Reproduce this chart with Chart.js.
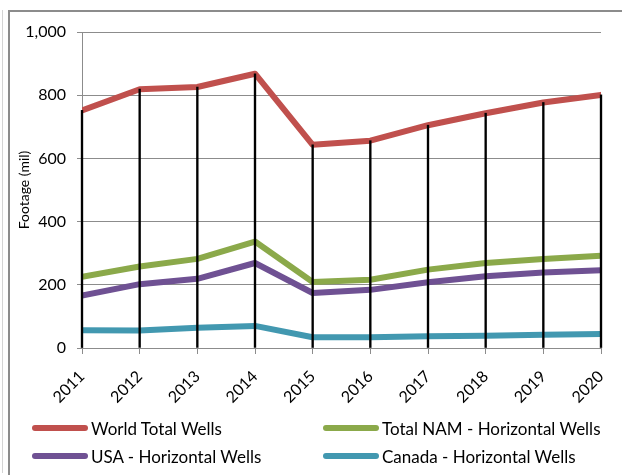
<!DOCTYPE html>
<html>
<head>
<meta charset="utf-8">
<script src="https://cdn.jsdelivr.net/npm/chart.js@4.4.0/dist/chart.umd.min.js"></script>
<style>
  html, body { margin: 0; padding: 0; background: #fff; }
  #wrap { position: relative; width: 622px; height: 475px; overflow: hidden; background: #fff; font-family: Lato, "Open Sans", sans-serif; }
  #frame { position: absolute; left: 8px; top: 10px; width: 700px; height: 600px; border-left: 2px solid #8c8c8c; border-top: 2px solid #8c8c8c; box-sizing: border-box; }
  #edge { position: absolute; left: 2px; top: 10px; width: 1px; height: 463px; background: #d4d4d4; }
  canvas { position: absolute; left: 0; top: 0; }
  .lg { position: absolute; height: 20px; display: flex; align-items: center; font-size: 17px; color: #000; white-space: nowrap; }
  .lg .sw { width: 56px; height: 6px; border-radius: 3px; margin-right: 3px; }
</style>
</head>
<body>
<div id="wrap">
  <div id="edge"></div>
  <div id="frame"></div>
  <canvas id="c" width="622" height="475"></canvas>
</div>
<script>
const years = ["2011","2012","2013","2014","2015","2016","2017","2018","2019","2020"];
const worldTotal = [752, 819, 826, 868, 643, 656, 705, 743, 777, 801];
const namHorizontal = [225, 258, 282, 337, 209, 216, 248, 269, 282, 292];
const usaHorizontal = [166, 202, 219, 269, 174, 184, 208, 227, 239, 246];
const canadaHorizontal = [56, 55, 64, 70, 34, 34, 37, 39, 42, 44];
const seriesNames = ["World Total Wells", "Total NAM - Horizontal Wells", "USA - Horizontal Wells", "Canada - Horizontal Wells"];
const seriesColors = ["#C0504D", "#8BA94A", "#6F5193", "#4298B0"];
const yAxisTitle = "Footage (mil)";

const seriesData = [worldTotal, namHorizontal, usaHorizontal, canadaHorizontal];
const lineSets = seriesData.map((d, i) => ({
  type: 'line',
  label: seriesNames[i],
  data: d,
  borderColor: seriesColors[i],
  backgroundColor: seriesColors[i],
  borderWidth: 6,
  pointRadius: 0,
  tension: 0,
  borderJoinStyle: 'round',
  borderCapStyle: 'round',
  clip: 0,
  order: 10 - i
}));
// drop lines from the highest series down to the axis
const dropLines = {
  type: 'bar',
  label: '__drop',
  data: worldTotal.map(v => [0, v]),
  backgroundColor: '#000',
  barThickness: 1.7,
  clip: false,
  order: -1
};

const grey = '#8c8c8c';
const chart = new Chart(document.getElementById('c'), {
  type: 'line',
  data: { labels: years, datasets: [...lineSets, dropLines] },
  options: {
    responsive: false,
    devicePixelRatio: 1,
    animation: false,
    layout: { padding: { left: 10, right: 21, top: 32, bottom: 67 } },
    plugins: { legend: { display: false }, tooltip: { enabled: false } },
    scales: {
      x: {
        offset: false,
        grid: { offset: false, drawOnChartArea: false, drawTicks: true, tickLength: 6, color: grey },
        border: { display: true, color: grey, width: 1 },
        ticks: { minRotation: 45, maxRotation: 45, autoSkip: false, padding: 13, color: '#000', font: { family: 'Lato', size: 16 } },
        afterFit: s => { s.height = 60; s.paddingLeft = 0; s.paddingRight = 0; }
      },
      y: {
        min: 0, max: 1000,
        ticks: { stepSize: 200, padding: 11, color: '#000', font: { family: 'Lato', size: 16 } },
        grid: { color: grey, tickLength: 5, drawTicks: true },
        border: { display: true, color: grey, width: 1 },
        title: { display: true, text: yAxisTitle, color: '#000', font: { family: 'Lato', size: 14 }, padding: { top: 6, bottom: 0 } },
        afterFit: s => { s.width = 72; }
      }
    }
  }
});

// legend built from the chart's own datasets
const legendPos = [[32, 418], [323, 418], [32, 446], [323, 446]];
const wrap = document.getElementById('wrap');
chart.data.datasets.filter(d => d.label !== '__drop').forEach((d, i) => {
  const el = document.createElement('div');
  el.className = 'lg';
  el.style.left = legendPos[i][0] + 'px';
  el.style.top = legendPos[i][1] + 'px';
  const sw = document.createElement('span');
  sw.className = 'sw';
  sw.style.background = d.borderColor;
  const tx = document.createElement('span');
  tx.textContent = d.label;
  el.appendChild(sw); el.appendChild(tx);
  wrap.appendChild(el);
});
</script>
</body>
</html>
